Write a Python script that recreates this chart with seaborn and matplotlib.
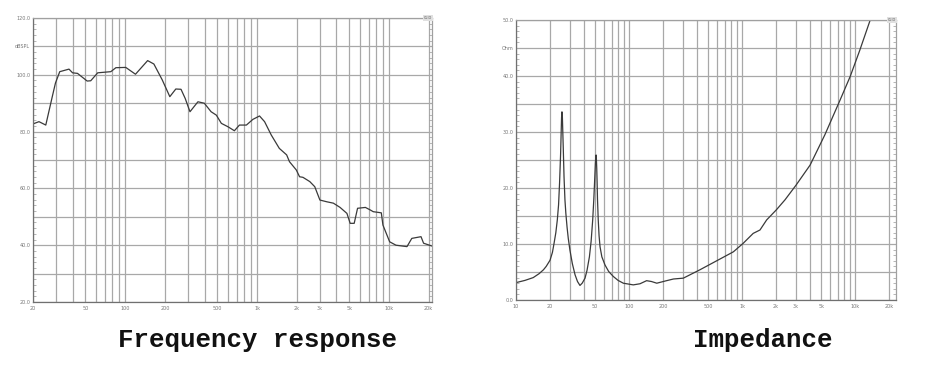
import numpy as np
import pandas as pd
import matplotlib
matplotlib.use("Agg")
import matplotlib.pyplot as plt
import matplotlib.ticker as mticker
import seaborn as sns

# frequency response (Hz, dBSPL)
fr_freq = [20, 22.2, 25, 28, 29.6, 31.9, 37.5, 39.9, 43.5, 51.5, 54.8, 61.9, 77.8, 85, 101,
           119.7, 148, 165, 191, 218, 242, 265, 285, 310, 356, 398, 448, 491, 536, 602,
           673, 735, 830, 929, 1044, 1140, 1281, 1474, 1676, 1761, 1983, 2100, 2227, 2510,
           2738, 2995, 3370, 3790, 4260, 4800, 5080, 5450, 5780, 6630, 7220, 7600, 8750,
           9000, 10120, 11300, 13700, 14900, 17500, 18300, 21200]
fr_spl = [82.7, 83.5, 82.3, 92.3, 97.1, 101.1, 102.0, 100.7, 100.5, 97.8, 97.9, 100.7, 101.1,
          102.5, 102.6, 100.2, 105.0, 103.8, 98.2, 92.3, 95.0, 94.9, 91.7, 87.0, 90.5, 90.0,
          87.0, 85.8, 82.9, 81.7, 80.3, 82.3, 82.3, 84.3, 85.5, 83.5, 78.8, 74.1, 71.8, 69.4,
          66.5, 64.1, 63.9, 62.4, 60.6, 55.9, 55.3, 54.8, 53.3, 51.2, 47.7, 47.7, 53.0, 53.3,
          52.4, 51.8, 51.4, 47.1, 41.2, 40.0, 39.5, 42.4, 43.0, 40.7, 39.7]

# impedance (Hz, Ohm)
imp_freq = [10, 12, 14.2, 16, 17.5, 18.5, 20, 21, 21.7, 22.5, 23.2, 23.8, 24.3, 24.8, 25.1,
            25.3, 25.5, 25.7, 25.9, 26.2, 26.6, 27.1, 27.6, 28.3, 29, 30, 31.5, 33.3, 35,
            36.8, 38.5, 40.8, 42.5, 44.6, 46.2, 47.7, 48.8, 49.8, 50.4, 50.8, 51.1, 51.4,
            51.8, 52.2, 52.6, 53.4, 54.3, 55.4, 57.5, 61.3, 66, 72.6, 80, 89, 109, 125, 143,
            158, 176, 210, 247, 302, 424, 596, 837, 1020, 1255, 1440, 1650, 2010, 2400, 3000,
            4000, 5400, 7360, 9040, 11000, 13600]
imp_ohm = [3.1, 3.5, 4.0, 4.7, 5.4, 6.0, 7.1, 8.5, 10.1, 12.0, 14.3, 17.0, 21.0, 26.0, 30.0,
           32.6, 33.6, 33.0, 30.5, 27.0, 22.0, 17.9, 15.5, 13.0, 11.0, 8.9, 6.5, 4.5, 3.3,
           2.6, 3.0, 3.9, 5.3, 7.7, 10.5, 14.3, 18.0, 22.0, 24.5, 25.6, 25.9, 25.3, 23.5,
           21.0, 18.0, 14.3, 11.5, 9.5, 7.7, 6.25, 5.1, 4.2, 3.5, 3.0, 2.7, 2.9, 3.45, 3.3,
           3.0, 3.4, 3.75, 3.9, 5.4, 7.0, 8.6, 10.1, 11.9, 12.5, 14.3, 16.1, 17.9, 20.5,
           24.1, 29.5, 35.7, 39.9, 44.6, 50.0]

fr_ticks = [20, 50, 100, 200, 500, 1000, 2000, 3000, 5000, 10000, 20000]
fr_ticklabels = ["20", "50", "100", "200", "500", "1k", "2k", "3k", "5k", "10k", "20k"]
imp_ticks = [10, 20, 50, 100, 200, 500, 1000, 2000, 3000, 5000, 10000, 20000]
imp_ticklabels = ["10", "20", "50", "100", "200", "500", "1k", "2k", "3k", "5k", "10k", "20k"]

spl_ticks = list(range(20, 121, 10))
spl_labels = ["20.0", "", "40.0", "", "60.0", "", "80.0", "", "100.0", "dBSPL", "120.0"]
ohm_ticks = list(range(0, 51, 5))
ohm_labels = ["0.0", "", "10.0", "", "20.0", "", "30.0", "", "40.0", "Ohm", "50.0"]

sns.set_style("white")
plt.rcParams["font.family"] = ["DejaVu Sans"]

fig = plt.figure(figsize=(9.28, 3.70), dpi=100)
ax1 = fig.add_axes([33 / 928, 68 / 370, 399 / 928, 284 / 370])
ax2 = fig.add_axes([516 / 928, 70 / 370, 380 / 928, 280 / 370])

fr = pd.DataFrame({"freq": fr_freq, "spl": fr_spl})
imp = pd.DataFrame({"freq": imp_freq, "ohm": imp_ohm})

sns.lineplot(data=fr, x="freq", y="spl", ax=ax1, color="#3a3a3a", lw=0.9)
sns.lineplot(data=imp, x="freq", y="ohm", ax=ax2, color="#3a3a3a", lw=0.9)


def grid_minors(lo, hi):
    vals = []
    for dec in [1, 10, 100, 1000, 10000]:
        for m in range(1, 10):
            v = m * dec
            if lo <= v <= hi:
                vals.append(v)
    return vals


def style(ax, xlim, ylim, xt, xtl, yt, ytl, yminor):
    ax.set_xscale("log")
    ax.set_xlim(*xlim)
    ax.set_ylim(*ylim)
    ax.set_xticks(xt)
    ax.set_xticklabels(xtl)
    ax.xaxis.set_minor_locator(mticker.FixedLocator(grid_minors(*xlim)))
    ax.xaxis.set_minor_formatter(mticker.NullFormatter())
    ax.set_yticks(yt)
    ax.set_yticklabels(ytl)
    ax.yaxis.set_minor_locator(mticker.MultipleLocator(yminor))
    ax.grid(True, which="both", axis="x", color="#a8a8a8", lw=0.9)
    ax.grid(True, which="major", axis="y", color="#a8a8a8", lw=0.9)
    ax.tick_params(axis="x", which="both", length=0, labelsize=3.5, labelcolor="#777777", pad=3)
    ax.tick_params(axis="y", which="major", length=0, labelsize=3.5, labelcolor="#777777", pad=2)
    ax.tick_params(axis="y", which="minor", direction="in", length=2.5, width=0.5,
                   color="#999999", left=True, right=True)
    ax.set_xlabel("")
    ax.set_ylabel("")
    for s in ax.spines.values():
        s.set_color("#a0a0a0")
        s.set_linewidth(0.9)
    ax.spines["bottom"].set_color("#707070")
    ax.spines["left"].set_color("#707070")
    ax.text(1.0, 1.0, "CLIO", transform=ax.transAxes, ha="right", va="center",
            fontsize=2.5, color="#555555",
            bbox=dict(boxstyle="square,pad=0.15", fc="#e0e0e0", ec="none"))


style(ax1, (20, 21200), (20, 120), fr_ticks, fr_ticklabels, spl_ticks, spl_labels, 2)
style(ax2, (10, 23000), (0, 50), imp_ticks, imp_ticklabels, ohm_ticks, ohm_labels, 1)

title_kw = dict(fontsize=18.5, fontweight="bold", family=["Liberation Mono", "DejaVu Sans Mono"],
                ha="center", va="center", color="#111111")
fig.text(258 / 928, 1 - 340 / 370, "Frequency response", **title_kw)
fig.text(763 / 928, 1 - 340 / 370, "Impedance", **title_kw)

fig.savefig("out.png", dpi=100, facecolor="white")
